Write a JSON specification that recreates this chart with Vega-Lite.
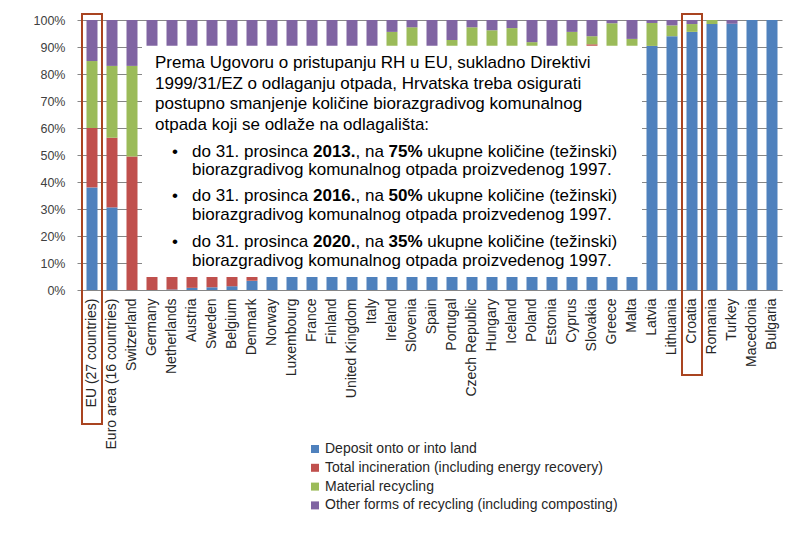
{
  "$schema": "https://vega.github.io/schema/vega-lite/v6.json",
  "width": 700,
  "height": 270,
  "autosize": {"type": "none"},
  "padding": {"left": 82, "top": 20, "right": 9, "bottom": 243},
  "background": "white",
  "config": {
    "font": "Liberation Sans",
    "view": {"stroke": null},
    "axis": {"gridColor": "#868686", "domainColor": "#868686", "tickColor": "#868686", "labelFont": "Liberation Sans", "labelColor": "#333333"}
  },
  "datasets": {
    "waste": [
      {"c": "EU (27 countries)", "Deposit onto or into land": 38, "Total incineration (including energy recovery)": 22, "Material recycling": 24.8, "Other forms of recycling (including composting)": 15.2},
      {"c": "Euro area (16 countries)", "Deposit onto or into land": 30.6, "Total incineration (including energy recovery)": 25.8, "Material recycling": 26.6, "Other forms of recycling (including composting)": 17},
      {"c": "Switzerland", "Deposit onto or into land": 0, "Total incineration (including energy recovery)": 49.4, "Material recycling": 33.6, "Other forms of recycling (including composting)": 17},
      {"c": "Germany", "Deposit onto or into land": 0, "Total incineration (including energy recovery)": 37, "Material recycling": 46, "Other forms of recycling (including composting)": 17},
      {"c": "Netherlands", "Deposit onto or into land": 0.2, "Total incineration (including energy recovery)": 39, "Material recycling": 32, "Other forms of recycling (including composting)": 28.8},
      {"c": "Austria", "Deposit onto or into land": 0.8, "Total incineration (including energy recovery)": 30, "Material recycling": 30, "Other forms of recycling (including composting)": 39.2},
      {"c": "Sweden", "Deposit onto or into land": 1, "Total incineration (including energy recovery)": 49, "Material recycling": 36, "Other forms of recycling (including composting)": 14},
      {"c": "Belgium", "Deposit onto or into land": 1.4, "Total incineration (including energy recovery)": 36, "Material recycling": 40, "Other forms of recycling (including composting)": 22.6},
      {"c": "Denmark", "Deposit onto or into land": 3.4, "Total incineration (including energy recovery)": 48, "Material recycling": 34, "Other forms of recycling (including composting)": 14.6},
      {"c": "Norway", "Deposit onto or into land": 10, "Total incineration (including energy recovery)": 47, "Material recycling": 27, "Other forms of recycling (including composting)": 16},
      {"c": "Luxembourg", "Deposit onto or into land": 18, "Total incineration (including energy recovery)": 35, "Material recycling": 27, "Other forms of recycling (including composting)": 20},
      {"c": "France", "Deposit onto or into land": 32, "Total incineration (including energy recovery)": 34, "Material recycling": 18, "Other forms of recycling (including composting)": 16},
      {"c": "Finland", "Deposit onto or into land": 45, "Total incineration (including energy recovery)": 20, "Material recycling": 22, "Other forms of recycling (including composting)": 13},
      {"c": "United Kingdom", "Deposit onto or into land": 48, "Total incineration (including energy recovery)": 11, "Material recycling": 26, "Other forms of recycling (including composting)": 15},
      {"c": "Italy", "Deposit onto or into land": 50, "Total incineration (including energy recovery)": 12, "Material recycling": 11, "Other forms of recycling (including composting)": 27},
      {"c": "Ireland", "Deposit onto or into land": 62, "Total incineration (including energy recovery)": 3, "Material recycling": 30.6, "Other forms of recycling (including composting)": 4.4},
      {"c": "Slovenia", "Deposit onto or into land": 63, "Total incineration (including energy recovery)": 1, "Material recycling": 33.3, "Other forms of recycling (including composting)": 2.7},
      {"c": "Spain", "Deposit onto or into land": 65, "Total incineration (including energy recovery)": 9, "Material recycling": 14, "Other forms of recycling (including composting)": 12},
      {"c": "Portugal", "Deposit onto or into land": 66, "Total incineration (including energy recovery)": 19, "Material recycling": 7.6, "Other forms of recycling (including composting)": 7.4},
      {"c": "Czech Republic", "Deposit onto or into land": 68, "Total incineration (including energy recovery)": 11, "Material recycling": 18.3, "Other forms of recycling (including composting)": 2.7},
      {"c": "Hungary", "Deposit onto or into land": 69, "Total incineration (including energy recovery)": 10, "Material recycling": 17.2, "Other forms of recycling (including composting)": 3.8},
      {"c": "Iceland", "Deposit onto or into land": 72, "Total incineration (including energy recovery)": 11, "Material recycling": 14, "Other forms of recycling (including composting)": 3},
      {"c": "Poland", "Deposit onto or into land": 76, "Total incineration (including energy recovery)": 1, "Material recycling": 14.8, "Other forms of recycling (including composting)": 8.2},
      {"c": "Estonia", "Deposit onto or into land": 78, "Total incineration (including energy recovery)": 0, "Material recycling": 10, "Other forms of recycling (including composting)": 12},
      {"c": "Cyprus", "Deposit onto or into land": 80, "Total incineration (including energy recovery)": 0, "Material recycling": 15.6, "Other forms of recycling (including composting)": 4.4},
      {"c": "Slovakia", "Deposit onto or into land": 81, "Total incineration (including energy recovery)": 10, "Material recycling": 3, "Other forms of recycling (including composting)": 6},
      {"c": "Greece", "Deposit onto or into land": 82, "Total incineration (including energy recovery)": 0, "Material recycling": 16.8, "Other forms of recycling (including composting)": 1.2},
      {"c": "Malta", "Deposit onto or into land": 86, "Total incineration (including energy recovery)": 0, "Material recycling": 7, "Other forms of recycling (including composting)": 7},
      {"c": "Latvia", "Deposit onto or into land": 90.4, "Total incineration (including energy recovery)": 0, "Material recycling": 8.5, "Other forms of recycling (including composting)": 1.1},
      {"c": "Lithuania", "Deposit onto or into land": 94, "Total incineration (including energy recovery)": 0, "Material recycling": 4, "Other forms of recycling (including composting)": 2},
      {"c": "Croatia", "Deposit onto or into land": 95.6, "Total incineration (including energy recovery)": 0, "Material recycling": 2.9, "Other forms of recycling (including composting)": 1.5},
      {"c": "Romania", "Deposit onto or into land": 98.5, "Total incineration (including energy recovery)": 0, "Material recycling": 1.5, "Other forms of recycling (including composting)": 0},
      {"c": "Turkey", "Deposit onto or into land": 98.6, "Total incineration (including energy recovery)": 0, "Material recycling": 0, "Other forms of recycling (including composting)": 1.4},
      {"c": "Macedonia", "Deposit onto or into land": 100, "Total incineration (including energy recovery)": 0, "Material recycling": 0, "Other forms of recycling (including composting)": 0},
      {"c": "Bulgaria", "Deposit onto or into land": 100, "Total incineration (including energy recovery)": 0, "Material recycling": 0, "Other forms of recycling (including composting)": 0}
    ]
  },
  "data": {"name": "waste"},
  "encoding": {
    "x": {
      "field": "c", "type": "nominal", "sort": null, "title": null,
      "scale": {"paddingInner": 0.45, "paddingOuter": 0.225},
      "axis": {"labelAngle": -90, "labelFontSize": 14, "labelPadding": 8, "ticks": false, "domainColor": "#868686", "labelColor": "#262626"}
    }
  },
  "layer": [
    {
      "transform": [
        {"fold": ["Deposit onto or into land", "Total incineration (including energy recovery)", "Material recycling", "Other forms of recycling (including composting)"], "as": ["series", "value"]},
        {"window": [{"op": "row_number", "as": "rank"}], "groupby": ["c"]}
      ],
      "mark": {"type": "bar"},
      "encoding": {
        "y": {
          "field": "value", "type": "quantitative", "stack": "normalize", "title": null,
          "scale": {"domain": [0, 1], "nice": false},
          "axis": {"format": ".0%", "tickCount": 11, "values": [0, 0.1, 0.2, 0.3, 0.4, 0.5, 0.6, 0.7, 0.8, 0.9, 1], "labelOverlap": false, "labelFontSize": 12.5, "labelPadding": 12, "tickSize": 5, "labelColor": "#404040"}
        },
        "order": {"field": "rank", "type": "quantitative", "sort": "ascending"},
        "color": {
          "field": "series", "type": "nominal", "title": null,
          "sort": ["Deposit onto or into land", "Total incineration (including energy recovery)", "Material recycling", "Other forms of recycling (including composting)"],
          "scale": {
            "domain": ["Deposit onto or into land", "Total incineration (including energy recovery)", "Material recycling", "Other forms of recycling (including composting)"],
            "range": ["#4f81bd", "#c0504d", "#9bbb59", "#8064a2"]
          },
          "legend": {
            "orient": "none", "legendX": 226, "legendY": 422, "padding": 0,
            "symbolType": "square", "symbolSize": 64, "symbolStrokeWidth": 0,
            "labelFontSize": 14, "labelColor": "#262626", "labelFont": "Liberation Sans",
            "labelOffset": 3, "rowPadding": 4.8, "labelLimit": 400
          }
        }
      }
    },
    {
      "transform": [{"filter": {"field": "c", "oneOf": ["Germany", "Netherlands", "Austria", "Sweden", "Belgium", "Denmark", "Norway", "Luxembourg", "France", "Finland", "United Kingdom", "Italy", "Ireland", "Slovenia", "Spain", "Portugal", "Czech Republic", "Hungary", "Iceland", "Poland", "Estonia", "Cyprus", "Slovakia", "Greece", "Malta"]}}],
      "mark": {"type": "bar", "color": "white", "width": {"band": 1.8182}},
      "encoding": {"y": {"datum": 0.048}, "y2": {"datum": 0.905}}
    },
    {
      "transform": [{"filter": {"field": "c", "equal": "EU (27 countries)"}}],
      "mark": {"type": "bar", "fill": null, "fillOpacity": 0, "stroke": "#a94420", "strokeWidth": 2, "width": {"band": 1.8182}},
      "encoding": {"y": {"datum": 1.022}, "y2": {"datum": -0.496}}
    },
    {
      "transform": [{"filter": {"field": "c", "equal": "Croatia"}}],
      "mark": {"type": "bar", "fill": null, "fillOpacity": 0, "stroke": "#a94420", "strokeWidth": 2, "width": {"band": 1.8182}},
      "encoding": {"y": {"datum": 1.022}, "y2": {"datum": -0.315}}
    },
    {
      "data": {"values": [{"t": "Prema Ugovoru o pristupanju RH u EU, sukladno Direktivi", "p": 0.8204}, {"t": "1999/31/EZ o odlaganju otpada, Hrvatska treba osigurati", "p": 0.7444}, {"t": "postupno smanjenje količine biorazgradivog komunalnog", "p": 0.6704}, {"t": "otpada koji se odlaže na odlagališta:", "p": 0.5944}]},
      "mark": {"type": "text", "align": "left", "baseline": "alphabetic", "fontSize": 17, "font": "Liberation Sans", "color": "black", "dx": 3},
      "encoding": {"x": {"datum": "Germany"}, "y": {"field": "p", "type": "quantitative"}, "text": {"field": "t"}}
    },
    {
      "data": {"values": [{"t": "•", "p": 0.4944}, {"t": "•", "p": 0.3278}, {"t": "•", "p": 0.1593}]},
      "mark": {"type": "text", "align": "left", "baseline": "alphabetic", "fontSize": 17, "font": "Liberation Sans", "color": "black", "dx": 20},
      "encoding": {"x": {"datum": "Germany"}, "y": {"field": "p", "type": "quantitative"}, "text": {"field": "t"}}
    },
    {
      "data": {"values": [{"t": "do 31. prosinca", "p": 0.4944}, {"t": "do 31. prosinca", "p": 0.3278}, {"t": "do 31. prosinca", "p": 0.1593}, {"t": "biorazgradivog komunalnog otpada proizvedenog 1997.", "p": 0.4259}, {"t": "biorazgradivog komunalnog otpada proizvedenog 1997.", "p": 0.2593}, {"t": "biorazgradivog komunalnog otpada proizvedenog 1997.", "p": 0.0907}]},
      "mark": {"type": "text", "align": "left", "baseline": "alphabetic", "fontSize": 17, "font": "Liberation Sans", "color": "black", "dx": 40},
      "encoding": {"x": {"datum": "Germany"}, "y": {"field": "p", "type": "quantitative"}, "text": {"field": "t"}}
    },
    {
      "data": {"values": [{"t": "2013.", "p": 0.4944}, {"t": "2016.", "p": 0.3278}, {"t": "2020.", "p": 0.1593}]},
      "mark": {"type": "text", "align": "left", "baseline": "alphabetic", "fontSize": 17, "font": "Liberation Sans", "fontWeight": "bold", "color": "black", "dx": 161},
      "encoding": {"x": {"datum": "Germany"}, "y": {"field": "p", "type": "quantitative"}, "text": {"field": "t"}}
    },
    {
      "data": {"values": [{"t": ", na", "p": 0.4944}, {"t": ", na", "p": 0.3278}, {"t": ", na", "p": 0.1593}]},
      "mark": {"type": "text", "align": "left", "baseline": "alphabetic", "fontSize": 17, "font": "Liberation Sans", "color": "black", "dx": 203.5},
      "encoding": {"x": {"datum": "Germany"}, "y": {"field": "p", "type": "quantitative"}, "text": {"field": "t"}}
    },
    {
      "data": {"values": [{"t": "75%", "p": 0.4944}, {"t": "50%", "p": 0.3278}, {"t": "35%", "p": 0.1593}]},
      "mark": {"type": "text", "align": "left", "baseline": "alphabetic", "fontSize": 17, "font": "Liberation Sans", "fontWeight": "bold", "color": "black", "dx": 236.6},
      "encoding": {"x": {"datum": "Germany"}, "y": {"field": "p", "type": "quantitative"}, "text": {"field": "t"}}
    },
    {
      "data": {"values": [{"t": "ukupne količine (težinski)", "p": 0.4944}, {"t": "ukupne količine (težinski)", "p": 0.3278}, {"t": "ukupne količine (težinski)", "p": 0.1593}]},
      "mark": {"type": "text", "align": "left", "baseline": "alphabetic", "fontSize": 17, "font": "Liberation Sans", "color": "black", "dx": 275.3},
      "encoding": {"x": {"datum": "Germany"}, "y": {"field": "p", "type": "quantitative"}, "text": {"field": "t"}}
    }
  ]
}
